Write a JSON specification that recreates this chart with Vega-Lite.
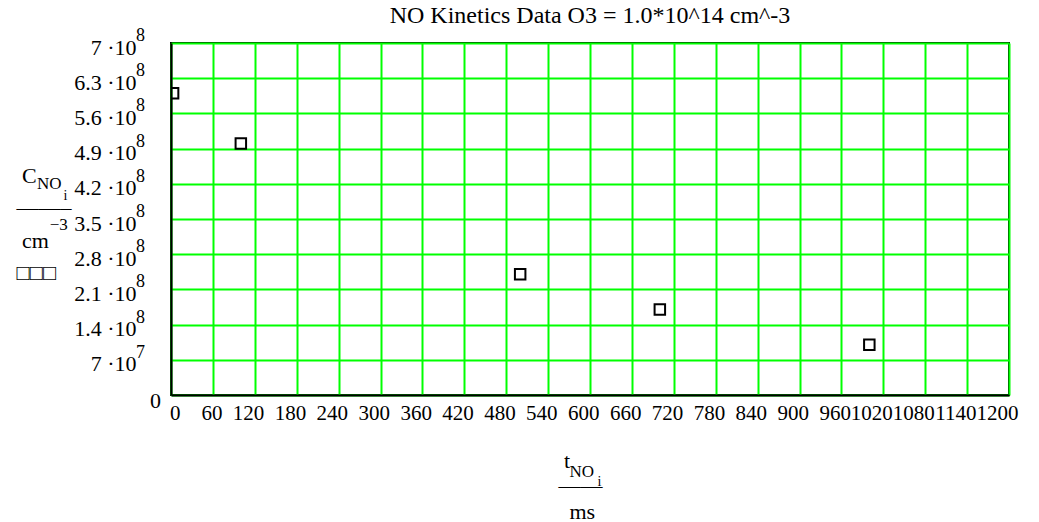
{
  "$schema": "https://vega.github.io/schema/vega-lite/v6.json",
  "width": 838,
  "height": 352,
  "autosize": "none",
  "padding": {"left": 171, "top": 43, "right": 30, "bottom": 127},
  "background": "white",
  "title": {
    "text": "NO Kinetics Data O3 = 1.0*10^14 cm^-3",
    "font": "Liberation Serif",
    "fontSize": 24,
    "fontWeight": "normal",
    "color": "black",
    "anchor": "middle",
    "baseline": "alphabetic",
    "offset": 6,
    "dy": 26
  },
  "config": {
    "view": {"stroke": "black", "strokeWidth": 2}
  },
  "resolve": {"axis": {"x": "independent", "y": "independent"}},
  "layer": [
    {
      "data": {
        "values": [
          {"t": 3, "c": 600000000},
          {"t": 100, "c": 500000000},
          {"t": 500, "c": 240000000},
          {"t": 700, "c": 170000000},
          {"t": 1000, "c": 100000000}
        ]
      },
      "mark": {"type": "point", "shape": "square", "filled": false, "stroke": "black", "strokeWidth": 2, "size": 110, "opacity": 1, "clip": true},
      "encoding": {
        "x": {
          "field": "t",
          "type": "quantitative",
          "scale": {"domain": [0, 1200], "nice": false, "zero": false},
          "axis": {
            "orient": "bottom",
            "values": [0, 60, 120, 180, 240, 300, 360, 420, 480, 540, 600, 660, 720, 780, 840, 900, 960, 1020, 1080, 1140, 1200],
            "format": "d",
            "grid": true, "gridColor": "#00ff00", "gridWidth": 2, "gridOpacity": 1,
            "domain": true, "domainColor": "black", "domainWidth": 2,
            "ticks": false, "tickSize": 0,
            "labelFont": "Liberation Serif", "labelFontSize": 21, "labelColor": "black",
            "labelAlign": "right", "labelBaseline": "alphabetic", "labelOffset": 9, "labelPadding": 24,
            "labelOverlap": false, "labelFlush": false, "labelBound": false,
            "title": ["\u200b\u00a0t", "\u2014\u2014", "\u200b\u00a0\u00a0ms"],
            "titleFont": "Liberation Serif", "titleFontSize": 22, "titleFontWeight": "normal", "titleColor": "black",
            "titleAlign": "left", "titleBaseline": "alphabetic", "titleAngle": 0,
            "titleX": 387, "titleY": 72, "titleLineHeight": 25.5
          }
        },
        "y": {
          "field": "c",
          "type": "quantitative",
          "scale": {"domain": [0, 700000000], "nice": false, "zero": true},
          "axis": {
            "orient": "left",
            "values": [0, 70000000, 140000000, 210000000, 280000000, 350000000, 420000000, 490000000, 560000000, 630000000, 700000000],
            "grid": true, "gridColor": "#00ff00", "gridWidth": 2, "gridOpacity": 1,
            "domain": true, "domainColor": "black", "domainWidth": 2,
            "ticks": false, "tickSize": 0,
            "labelExpr": "datum.value === 0 ? '' : format(datum.value >= 100000000 ? datum.value / 100000000 : datum.value / 10000000, '.1~f') + ' \u00b710'",
            "labelFont": "Liberation Serif", "labelFontSize": 22, "labelColor": "black",
            "labelAlign": "right", "labelBaseline": "alphabetic", "labelOffset": 11, "labelPadding": 35,
            "labelOverlap": false, "labelFlush": false, "labelBound": false,
            "title": ["\u200b\u00a0C", "\u2014\u2014\u2013", "\u200b\u00a0cm", "\u25a1\u25a1\u25a1"],
            "titleFont": "Liberation Serif", "titleFontSize": 22, "titleFontWeight": "normal", "titleColor": "black",
            "titleAlign": "left", "titleBaseline": "alphabetic", "titleAngle": 0,
            "titleX": -155, "titleY": 139, "titleLineHeight": 32.5
          }
        }
      }
    },
    {
      "data": {
        "values": [
          {"v": 140000000, "e": "8"},
          {"v": 210000000, "e": "8"},
          {"v": 280000000, "e": "8"},
          {"v": 350000000, "e": "8"},
          {"v": 420000000, "e": "8"},
          {"v": 490000000, "e": "8"},
          {"v": 560000000, "e": "8"},
          {"v": 630000000, "e": "8"},
          {"v": 700000000, "e": "8"}
        ]
      },
      "mark": {"type": "text", "align": "left", "baseline": "alphabetic", "dx": -35, "dy": -2, "font": "Liberation Serif", "fontSize": 18, "fill": "black"},
      "encoding": {
        "x": {
          "datum": 0, "type": "quantitative",
          "axis": {
            "orient": "bottom", "labels": false, "ticks": false, "domain": false, "grid": false,
            "title": "NO", "titleFont": "Liberation Serif", "titleFontSize": 17, "titleFontWeight": "normal", "titleColor": "black",
            "titleAlign": "left", "titleBaseline": "alphabetic", "titleAngle": 0, "titleX": 398, "titleY": 81
          }
        },
        "y": {
          "field": "v", "type": "quantitative",
          "axis": {
            "orient": "left", "labels": false, "ticks": false, "domain": false, "grid": false,
            "title": ["NO", "\u200b\u00a0\u00a0\u00a0\u22123"], "titleFont": "Liberation Serif", "titleFontSize": 17, "titleFontWeight": "normal", "titleColor": "black",
            "titleAlign": "left", "titleBaseline": "alphabetic", "titleAngle": 0, "titleX": -134.5, "titleY": 145, "titleLineHeight": 41
          }
        },
        "text": {"field": "e"}
      }
    },
    {
      "data": {
        "values": [
          {"v": 70000000, "e": "7"}
        ]
      },
      "mark": {"type": "text", "align": "left", "baseline": "alphabetic", "dx": -35, "dy": -2, "font": "Liberation Serif", "fontSize": 18, "fill": "black"},
      "encoding": {
        "x": {
          "datum": 0, "type": "quantitative",
          "axis": {
            "orient": "bottom", "labels": false, "ticks": false, "domain": false, "grid": false,
            "title": "i", "titleFont": "Liberation Serif", "titleFontSize": 14, "titleFontWeight": "normal", "titleColor": "black",
            "titleAlign": "left", "titleBaseline": "alphabetic", "titleAngle": 0, "titleX": 426, "titleY": 90
          }
        },
        "y": {
          "field": "v", "type": "quantitative",
          "axis": {
            "orient": "left", "labels": false, "ticks": false, "domain": false, "grid": false,
            "title": "i", "titleFont": "Liberation Serif", "titleFontSize": 14, "titleFontWeight": "normal", "titleColor": "black",
            "titleAlign": "left", "titleBaseline": "alphabetic", "titleAngle": 0, "titleX": -108, "titleY": 156
          }
        },
        "text": {"field": "e"}
      }
    },
    {
      "data": {
        "values": [
          {"v": 0, "e": "0"}
        ]
      },
      "mark": {"type": "text", "align": "right", "baseline": "alphabetic", "dx": -10, "dy": 13, "font": "Liberation Serif", "fontSize": 22, "fill": "black"},
      "encoding": {
        "x": {"datum": 0, "type": "quantitative", "axis": null},
        "y": {"field": "v", "type": "quantitative", "axis": null},
        "text": {"field": "e"}
      }
    }
  ]
}
